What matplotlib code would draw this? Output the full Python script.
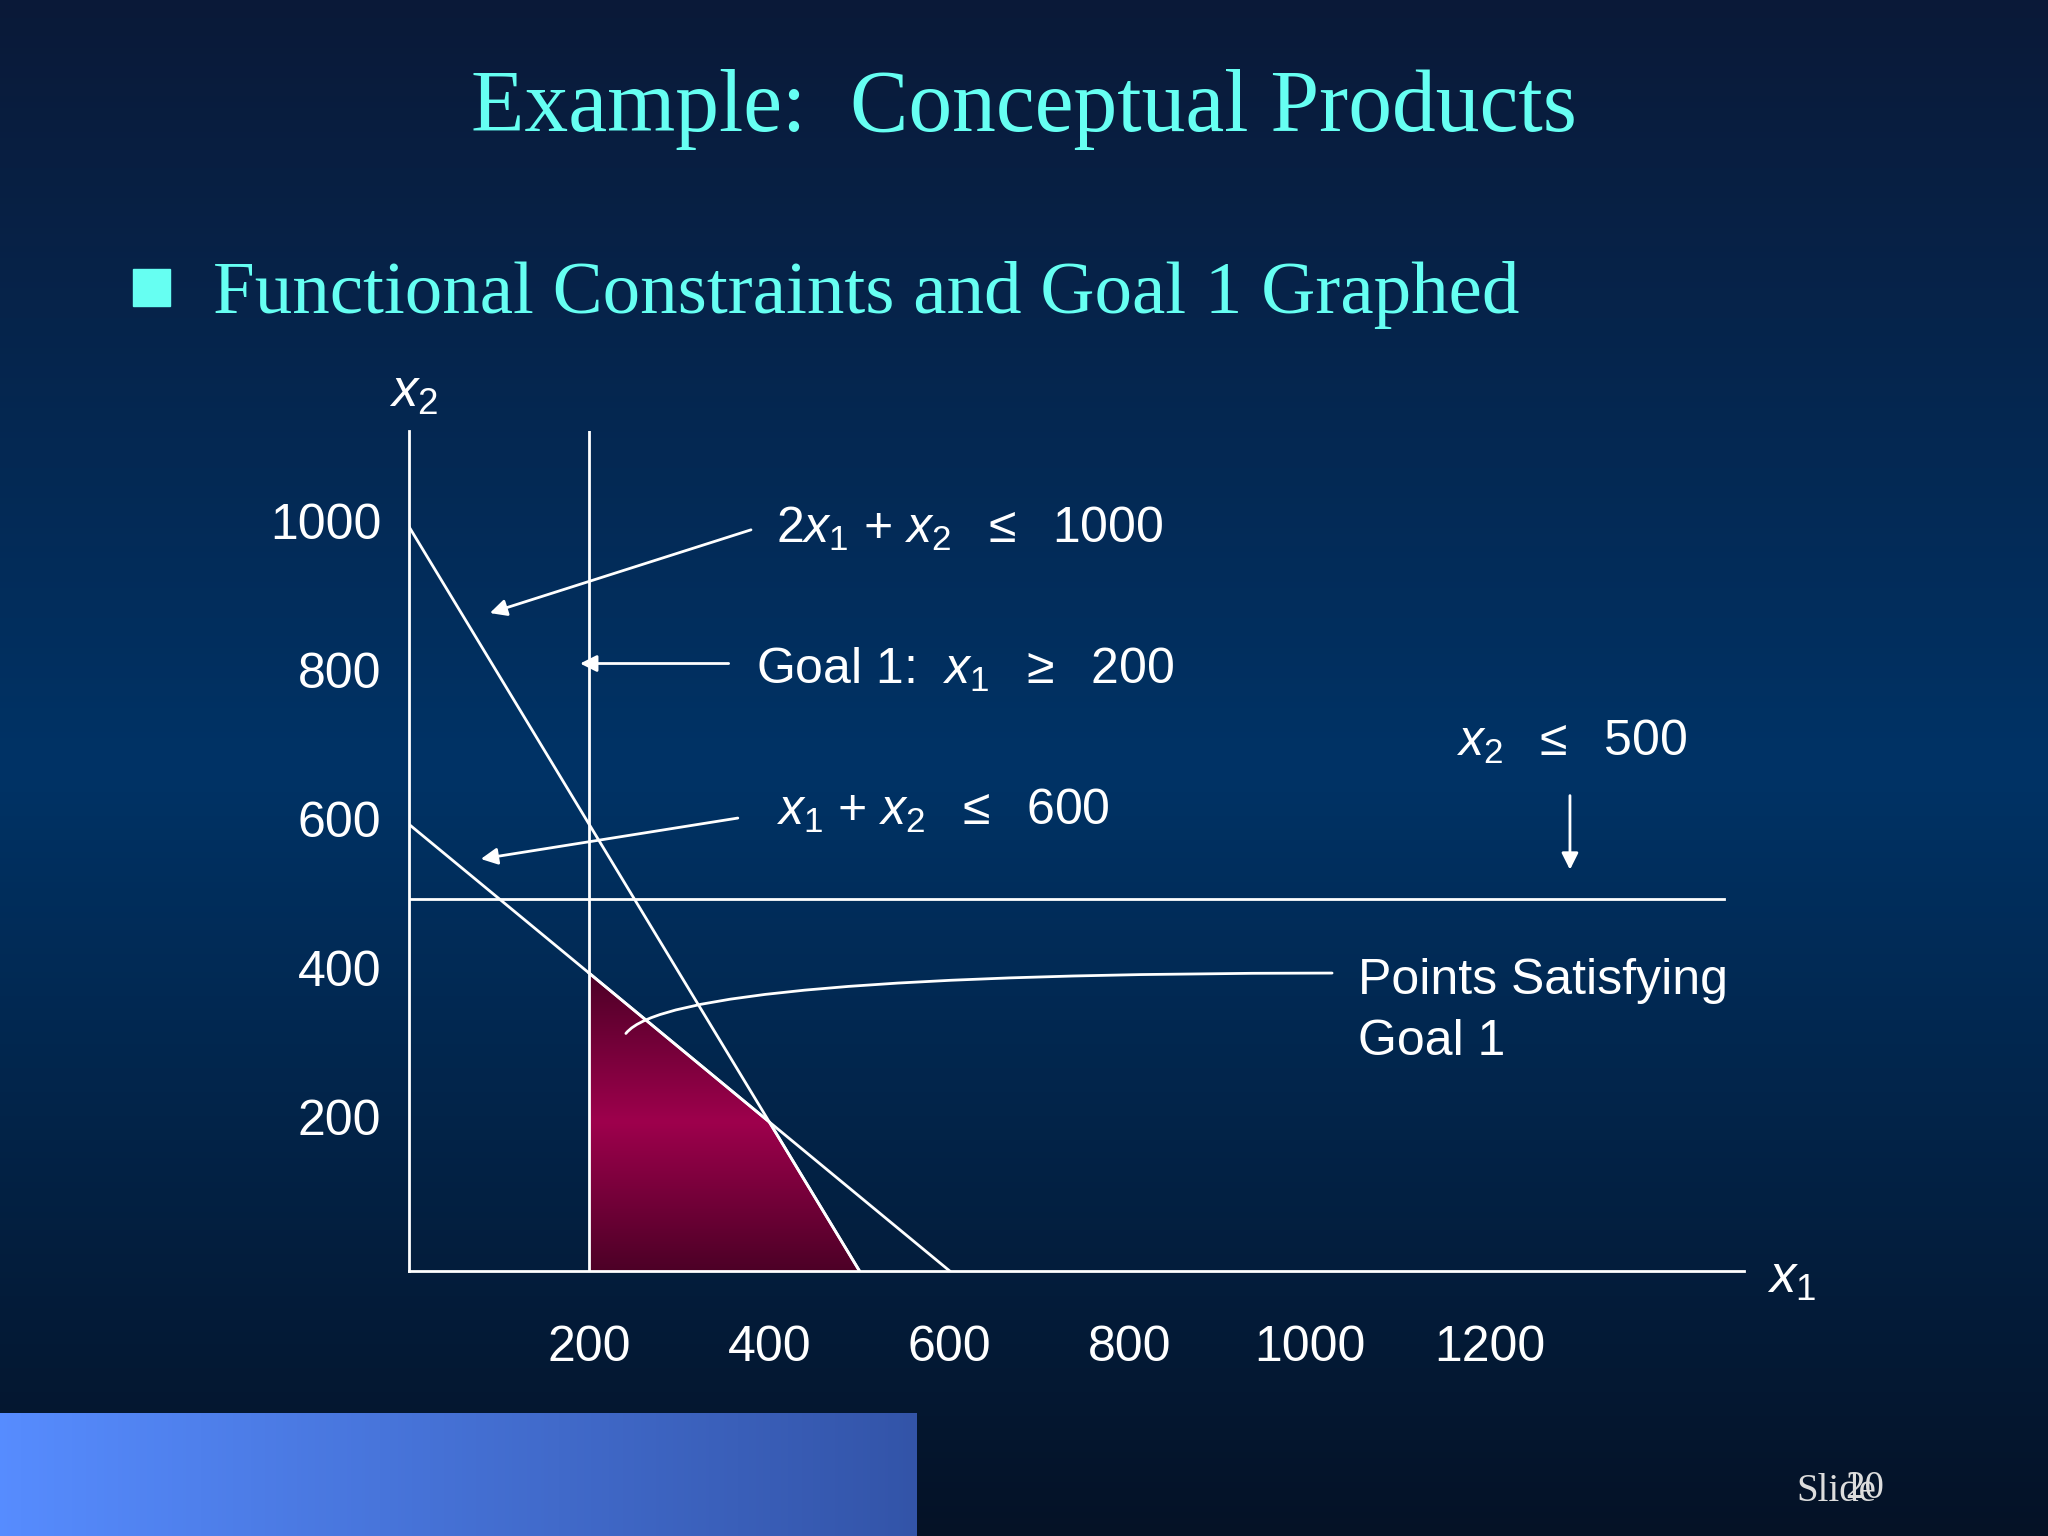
import numpy as np
import matplotlib
matplotlib.use("Agg")
from matplotlib import pyplot as plt
from matplotlib.patches import Polygon

plt.rcParams['mathtext.fontset'] = 'custom'
plt.rcParams['mathtext.rm'] = 'Liberation Sans'
plt.rcParams['mathtext.it'] = 'Liberation Sans:italic'

# data
x_ticks = [200, 400, 600, 800, 1000, 1200]
y_ticks = [200, 400, 600, 800, 1000]
goal_x1 = 200
limit_x2 = 500
c1 = 1000  # 2x1 + x2 <= 1000
c2 = 600   # x1 + x2 <= 600
region = [(200, 400), (200, 0), (500, 0), (400, 200)]

W, H = 1568, 1176  # layout space of the slide
fig = plt.figure(figsize=(20.48, 15.36), dpi=100)

# background layer in slide pixels
bg = fig.add_axes([0, 0, 1, 1])
bg.set_xlim(0, W)
bg.set_ylim(H, 0)
bg.axis('off')
t = np.linspace(0, 1, 256)[:, None]
top = np.array([0.04, 0.10, 0.22])
mid = np.array([0.0, 0.20, 0.40])
bot = np.array([0.02, 0.07, 0.15])
grad = np.where(t < 0.5, top + (mid - top) * (t / 0.5), mid + (bot - mid) * ((t - 0.5) / 0.5))
bg.imshow(grad[:, None, :].repeat(2, axis=1), extent=[0, W, H, 0], aspect='auto', zorder=0)
bar = np.linspace(0, 1, 256)[None, :, None]
bar_c = np.array([0.34, 0.55, 1.0]) + (np.array([0.20, 0.33, 0.66]) - np.array([0.34, 0.55, 1.0])) * bar
bg.imshow(bar_c.repeat(2, axis=0), extent=[0, 702, 1176, 1082], aspect='auto', zorder=1)

cyan = '#66fff2'
bg.text(784, 84, 'Example:  Conceptual Products', ha='center', va='center',
        family='Liberation Serif', fontsize=63, color=cyan)
bg.add_patch(plt.Rectangle((102, 206), 28, 28, color=cyan))
bg.text(163, 226, 'Functional Constraints and Goal 1 Graphed', ha='left', va='center',
        family='Liberation Serif', fontsize=54, color=cyan)
bg.text(1375, 1142, 'Slide', family='Liberation Serif', fontsize=28, color='#dddddd', va='center')
bg.text(1413, 1140, '20', family='Liberation Serif', fontsize=28, color='#dddddd', va='center')

# chart axes
sx, sy = 0.69, 0.57
x0, y0 = 313, 973
xmax = (1335 - x0) / sx
ymax = (y0 - 330) / sy
ax = fig.add_axes([x0 / W, 1 - y0 / H, (1335 - x0) / W, (y0 - 330) / H])
ax.set_xlim(0, xmax)
ax.set_ylim(0, ymax)
ax.axis('off')

def d(px, py):
    return ((px - x0) / sx, (y0 - py) / sy)

lw = 2
ax.plot([0, xmax], [0, 0], color='white', lw=lw, clip_on=False)
ax.plot([0, 0], [0, ymax], color='white', lw=lw, clip_on=False)
ax.plot([goal_x1, goal_x1], [0, ymax], color='white', lw=lw)
ax.plot([0, (1320 - x0) / sx], [limit_x2, limit_x2], color='white', lw=lw)
ax.plot([0, c1 / 2], [c1, 0], color='white', lw=lw)
ax.plot([0, c2], [c2, 0], color='white', lw=lw)

# gradient fill of region
poly = Polygon(region, closed=True, facecolor='none', edgecolor='none')
ax.add_patch(poly)
g = np.linspace(0, 1, 256)[:, None]
wv = 1 - np.abs(g - 0.5) * 2
dark = np.array([0.30, 0.0, 0.15])
bright = np.array([0.62, 0.0, 0.30])
fill = dark + (bright - dark) * wv[..., None]
im = ax.imshow(fill.repeat(2, axis=1), extent=[200, 500, 0, 400], aspect='auto', zorder=1)
im.set_clip_path(poly)
ax.plot([p[0] for p in region[2:]] + [region[0][0]], [p[1] for p in region[2:]] + [region[0][1]],
        color='white', lw=lw, zorder=2)

for x in x_ticks:
    ax.text(x, d(0, 1032)[1], str(x), ha='center', va='center', fontsize=36,
            family='Liberation Sans', color='white', clip_on=False)
for y in y_ticks:
    ax.text(d(292, 0)[0], y, str(y), ha='right', va='center', fontsize=36,
            family='Liberation Sans', color='white', clip_on=False)
ax.text(*d(298, 300), r'$\mathit{x}_2$', fontsize=38, color='white', va='center')
ax.text(*d(1353, 978), r'$\mathit{x}_1$', fontsize=38, color='white', va='center')

lab = dict(fontsize=36, color='white', va='center', family='Liberation Sans')
ax.text(*d(594, 405), r'2$\mathit{x}_1$ + $\mathit{x}_2$  $\leq$  1000', **lab)
ax.text(*d(579, 513), r'Goal 1:  $\mathit{x}_1$  $\geq$  200', **lab)
ax.text(*d(594, 621), r'$\mathit{x}_1$ + $\mathit{x}_2$  $\leq$  600', **lab)
ax.text(*d(1115, 568), r'$\mathit{x}_2$  $\leq$  500', **lab)
ax.text(*d(1040, 751), 'Points Satisfying', **lab)
ax.text(*d(1040, 798), 'Goal 1', **lab)

arr = dict(arrowstyle='-|>', color='white', lw=2, mutation_scale=25)
ax.annotate('', xy=d(373, 470), xytext=d(577, 405), arrowprops=arr)
ax.annotate('', xy=d(442, 508), xytext=d(560, 508), arrowprops=arr)
ax.annotate('', xy=d(366, 658), xytext=d(567, 626), arrowprops=arr)
ax.annotate('', xy=d(1202, 668), xytext=d(1202, 607), arrowprops=arr)
ax.annotate('', xy=d(478, 793), xytext=d(1022, 745),
            arrowprops=dict(arrowstyle='-', color='white', lw=2,
                            connectionstyle='angle3,angleA=180,angleB=60'))

fig.savefig('out.png', dpi=100)
